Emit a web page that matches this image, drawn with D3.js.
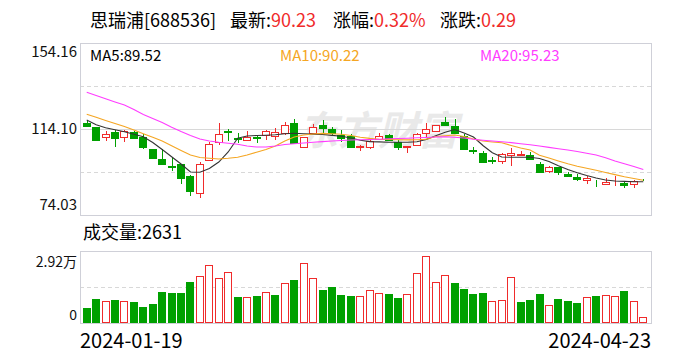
<!DOCTYPE html>
<head>
  <meta charset="utf-8">
  <style>
    body { margin: 0; background: #fff; }
    svg { display: block; font-family: "Microsoft YaHei", "Noto Sans CJK SC", sans-serif; }
  </style>
  <script src="https://cdn.jsdelivr.net/npm/d3@7/dist/d3.min.js"></script>
</head>
<body>
<div id="chart"></div>
<script>
// trading days shown
const dates = [
  '2024-01-19', '2024-01-22', '2024-01-23', '2024-01-24', '2024-01-25', '2024-01-26',
  '2024-01-29', '2024-01-30', '2024-01-31', '2024-02-01', '2024-02-02',
  '2024-02-05', '2024-02-06', '2024-02-07', '2024-02-08',
  '2024-02-19', '2024-02-20', '2024-02-21', '2024-02-22', '2024-02-23',
  '2024-02-26', '2024-02-27', '2024-02-28', '2024-02-29', '2024-03-01',
  '2024-03-04', '2024-03-05', '2024-03-06', '2024-03-07', '2024-03-08',
  '2024-03-11', '2024-03-12', '2024-03-13', '2024-03-14', '2024-03-15',
  '2024-03-18', '2024-03-19', '2024-03-20', '2024-03-21', '2024-03-22',
  '2024-03-25', '2024-03-26', '2024-03-27', '2024-03-28', '2024-03-29',
  '2024-04-01', '2024-04-02', '2024-04-03',
  '2024-04-08', '2024-04-09', '2024-04-10', '2024-04-11', '2024-04-12',
  '2024-04-15', '2024-04-16', '2024-04-17', '2024-04-18', '2024-04-19',
  '2024-04-22', '2024-04-23'
]
const open = [116.89, 115.03, 110.23, 112.84, 110.23, 112.70, 110.51, 104.78, 100.12, 96.86,
  97.79, 92.06, 84.14, 99.51, 108.18, 113.30, 109.76, 108.83, 110.51, 111.44,
  110.97, 112.37, 117.03, 105.57, 112.09, 115.96, 114.10, 111.30, 110.83, 105.57,
  105.57, 109.58, 111.30, 108.04, 105.57, 106.50, 112.09, 113.30, 117.36, 115.49,
  110.83, 104.31, 103.05, 99.65, 99.19, 101.98, 102.12, 101.98, 97.79, 94.53,
  96.39, 93.13, 91.87, 90.48, 88.61, 88.47, 89.35, 89.08, 88.47, 90.40]
const close = [115.63, 109.11, 111.63, 110.04, 113.02, 109.76, 105.57, 100.72, 97.79, 96.53,
  91.41, 85.21, 97.65, 107.11, 111.63, 112.70, 109.44, 110.23, 110.10, 113.02,
  112.56, 115.82, 107.43, 110.37, 114.89, 114.70, 112.09, 110.04, 105.85, 106.18,
  108.50, 110.83, 108.83, 105.85, 105.95, 111.63, 113.96, 115.82, 116.10, 112.23,
  104.64, 103.71, 98.58, 99.33, 102.31, 102.77, 102.45, 99.98, 94.20, 96.39,
  93.92, 92.06, 90.66, 91.27, 88.33, 89.35, 89.50, 88.01, 89.94, 90.23]
const high = [118.29, 115.20, 113.16, 113.49, 113.77, 113.30, 111.63, 104.90, 104.78, 101.05,
  97.90, 92.67, 98.58, 108.18, 116.89, 113.96, 112.09, 113.30, 111.07, 113.63,
  114.56, 117.36, 118.61, 110.50, 116.42, 118.29, 114.89, 113.63, 111.77, 106.41,
  109.30, 112.46, 111.77, 108.97, 106.00, 112.23, 116.75, 115.90, 119.69, 118.61,
  111.77, 105.85, 103.99, 101.19, 103.05, 105.38, 103.85, 103.24, 98.86, 97.00,
  96.50, 94.20, 92.99, 92.06, 90.20, 91.41, 92.06, 89.54, 90.48, 90.94]
const low = [115.50, 108.64, 108.50, 105.85, 108.18, 109.30, 104.78, 100.60, 97.70, 94.67,
  88.47, 83.02, 82.09, 99.40, 106.64, 108.64, 107.43, 108.36, 107.71, 108.97,
  108.97, 111.16, 107.11, 105.50, 111.77, 112.37, 110.83, 108.18, 105.70, 103.99,
  104.78, 108.97, 108.50, 104.31, 103.05, 106.40, 110.37, 112.84, 115.49, 111.77,
  104.50, 102.45, 98.40, 97.65, 97.65, 97.00, 101.38, 99.90, 94.10, 93.60,
  92.67, 92.00, 90.01, 88.33, 87.21, 88.01, 87.68, 86.47, 86.75, 90.10]
const volume = [6190, 9823, 9016, 9420, 9016, 8612, 6594, 7805, 12649, 12245,
  12245, 16686, 18973, 23414, 18166, 20588, 10630, 10496, 11034, 12514,
  11438, 16147, 17493, 24221, 18166, 13456, 14667, 11438, 11034, 11034,
  13321, 12111, 11841, 10226, 11707, 20184, 27046, 16551, 19376, 16282,
  13860, 11841, 12245, 8881, 9285, 18569, 8612, 9420, 11841, 7266,
  9823, 9016, 8208, 10496, 11034, 11303, 11034, 13052, 8881, 2631]
const ma5 = [118.29, 116.05, 114.65, 113.72, 112.84, 111.67, 110.51, 107.81, 104.55, 101.19,
  97.79, 94.06, 93.92, 95.69, 98.72, 103.38, 109.81, 110.83, 111.07, 111.21,
  111.44, 111.86, 112.09, 111.91, 111.72, 111.53, 111.11, 110.74, 109.90, 108.83,
  108.23, 108.09, 107.95, 107.90, 107.90, 108.18, 109.16, 110.93, 112.56, 113.86,
  112.23, 110.37, 106.41, 103.05, 101.05, 100.91, 100.91, 100.91, 100.35, 98.95,
  97.00, 95.23, 93.74, 92.43, 91.27, 90.34, 89.87, 89.68, 89.54, 89.52]
const ma10 = [120.99, 119.55, 118.10, 116.66, 115.26, 113.63, 111.91, 110.28, 108.50, 106.27,
  104.08, 101.94, 100.82, 100.45, 100.12, 100.49, 100.96, 101.98, 103.29, 104.55,
  106.18, 108.50, 110.37, 111.30, 111.77, 112.05, 111.91, 111.67, 111.07, 110.28,
  109.72, 109.34, 109.20, 109.11, 109.02, 109.06, 109.30, 110.60, 110.93, 111.30,
  110.60, 109.44, 108.50, 108.04, 107.67, 106.41, 105.24, 104.31, 101.84, 100.58,
  99.19, 97.88, 96.77, 95.79, 94.85, 93.83, 92.85, 91.87, 91.03, 90.22]
const ma20 = [131.19, 129.70, 128.21, 126.72, 125.28, 123.18, 120.85, 118.99, 117.12, 114.93,
  112.93, 111.07, 109.44, 108.50, 107.90, 107.48, 106.97, 106.18, 105.71, 105.71,
  106.18, 106.87, 107.25, 107.57, 107.95, 108.23, 108.50, 108.74, 108.97, 109.06,
  109.20, 109.34, 109.53, 109.67, 109.81, 110.00, 110.14, 110.37, 110.46, 110.28,
  109.90, 109.34, 108.88, 108.50, 108.18, 107.76, 107.25, 106.73, 106.18, 105.52,
  104.92, 104.31, 103.61, 102.82, 101.98, 100.68, 99.19, 97.88, 96.67, 95.23]
const priceTicks = ['154.16', '114.10', '74.03']
const volumeTicks = ['2.92万', '0']
const volumeMax = 29200

const width = 688, height = 360
const red = '#f02b2b', green = '#00a000', gridColor = '#d8d8d8', borderColor = '#cfd0d8'
const maColors = { ma5: '#333', ma10: '#f5a623', ma20: '#ff3cff' }

const svg = d3.select('#chart').append('svg')
  .attr('width', width).attr('height', height)
  .attr('viewBox', [0, 0, width, height])

// panels
const px0 = 80, px1 = 651
const priceTop = 43, priceBottom = 215
const volTop = 251, volBottom = 323

const x = d3.scaleBand().domain(dates).range([82, 648]).paddingInner(0.2).paddingOuter(0.1)
const y = d3.scaleLinear().domain([+priceTicks[2], +priceTicks[0]]).range([priceBottom, priceTop])
const yv = d3.scaleLinear().domain([0, volumeMax]).range([volBottom, volTop])
const xc = d => x(d) + x.bandwidth() / 2

// header
const header = svg.append('g').attr('font-size', 18).attr('fill', '#000')
header.append('text').attr('x', 90).attr('y', 27).text('思瑞浦[688536]')
const hdr = [['最新:', '90.23', 230], ['涨幅:', '0.32%', 333], ['涨跌:', '0.29', 440]]
hdr.forEach(([k, v, hx]) => {
  const t = header.append('text').attr('x', hx).attr('y', 27)
  t.append('tspan').text(k)
  t.append('tspan').attr('fill', red).text(v)
})

// watermark
svg.append('text')
  .attr('x', 298).attr('y', 145)
  .attr('font-size', 40).attr('font-weight', 'bold').attr('font-style', 'italic')
  .attr('fill', '#e9e9e9')
  .text('东方财富')

// grid of price panel
const [pLo, pHi] = y.domain()
const quarter = (pHi - pLo) / 4
const gridVals = [pLo + quarter, pLo + 2 * quarter, pLo + 3 * quarter]
svg.append('g').selectAll('line').data(gridVals).join('line')
  .attr('x1', px0).attr('x2', px1)
  .attr('y1', d => Math.round(y(d)) + 0.5).attr('y2', d => Math.round(y(d)) + 0.5)
  .attr('stroke', gridColor)
  .attr('stroke-dasharray', (d, i) => i === 1 ? null : '4,3')

svg.append('line')
  .attr('x1', px0).attr('x2', px1)
  .attr('y1', Math.round(yv(volumeMax / 2)) + 0.5).attr('y2', Math.round(yv(volumeMax / 2)) + 0.5)
  .attr('stroke', gridColor).attr('stroke-dasharray', '4,3')

// borders
svg.append('rect').attr('x', px0 + 0.5).attr('y', priceTop + 0.5)
  .attr('width', px1 - px0).attr('height', priceBottom - priceTop)
  .attr('fill', 'none').attr('stroke', borderColor)
svg.append('rect').attr('x', px0 + 0.5).attr('y', volTop + 0.5)
  .attr('width', px1 - px0).attr('height', volBottom - volTop)
  .attr('fill', 'none').attr('stroke', borderColor)

// price labels
const pLabelY = [priceTop + 9, y(+priceTicks[1]), priceBottom - 10]
svg.append('g').attr('font-size', 15).attr('text-anchor', 'end').attr('fill', '#111')
  .selectAll('text').data(priceTicks).join('text')
  .attr('x', 77).attr('y', (d, i) => pLabelY[i]).attr('dy', '0.35em')
  .text(d => d)

// volume labels
const vLabelY = [volTop + 11, volBottom - 8]
svg.append('g').attr('font-size', 14).attr('text-anchor', 'end').attr('fill', '#111')
  .selectAll('text').data(volumeTicks).join('text')
  .attr('x', 77).attr('y', (d, i) => vLabelY[i]).attr('dy', '0.35em')
  .text(d => d)

// candles
const candles = dates.map((d, i) => ({ d, o: open[i], c: close[i], h: high[i], l: low[i], v: volume[i],
  up: close[i] >= open[i], volUp: i === 0 ? close[i] >= open[i] : close[i] >= close[i - 1] }))

const cg = svg.append('g').attr('shape-rendering', 'crispEdges')
cg.selectAll('line').data(candles).join('line')
  .attr('x1', d => Math.round(xc(d.d)) + 0.5).attr('x2', d => Math.round(xc(d.d)) + 0.5)
  .attr('y1', d => y(d.h)).attr('y2', d => y(d.l))
  .attr('stroke', d => d.up ? red : green)
const bw = Math.round(x.bandwidth())
cg.selectAll('rect').data(candles).join('rect')
  .attr('x', d => Math.round(xc(d.d)) - Math.floor(bw / 2) + 0.5)
  .attr('width', bw - 1)
  .attr('y', d => Math.round(y(Math.max(d.o, d.c))) + 0.5)
  .attr('height', d => Math.max(0, Math.round(y(Math.min(d.o, d.c))) - Math.round(y(Math.max(d.o, d.c)))))
  .attr('fill', d => d.up ? '#fff' : green)
  .attr('stroke', d => d.up ? red : green)

// moving averages
const line = d3.line().x((v, i) => xc(dates[i])).y(v => y(v))
;[['ma5', ma5], ['ma10', ma10], ['ma20', ma20]].forEach(([k, arr]) => {
  svg.append('path').attr('d', line(arr))
    .attr('fill', 'none').attr('stroke', maColors[k]).attr('stroke-width', 1.1)
})

// MA legend
const maLabels = [['MA5:' + ma5[ma5.length - 1].toFixed(2), 90, '#000'],
  ['MA10:' + ma10[ma10.length - 1].toFixed(2), 280, maColors.ma10],
  ['MA20:' + ma20[ma20.length - 1].toFixed(2), 480, maColors.ma20]]
svg.append('g').attr('font-size', 15)
  .selectAll('text').data(maLabels).join('text')
  .attr('x', d => d[1]).attr('y', 56).attr('dy', '0.35em')
  .attr('fill', d => d[2]).text(d => d[0])

// volume
svg.append('text').attr('x', 83).attr('y', 233).attr('dy', '0.35em')
  .attr('font-size', 18).attr('fill', '#000')
  .text('成交量:' + volume[volume.length - 1])

svg.append('g').attr('shape-rendering', 'crispEdges')
  .selectAll('rect').data(candles).join('rect')
  .attr('x', d => Math.round(xc(d.d)) - Math.floor(bw / 2) + 0.5)
  .attr('width', bw - 1)
  .attr('y', d => Math.round(yv(d.v)) + 0.5)
  .attr('height', d => volBottom - Math.round(yv(d.v)) - 1)
  .attr('fill', d => d.volUp ? '#fff' : green)
  .attr('stroke', d => d.volUp ? red : green)

// date labels
const dl = svg.append('g').attr('font-size', 20).attr('fill', '#000')
dl.append('text').attr('x', px0).attr('y', 341).attr('dy', '0.35em').text(dates[0])
dl.append('text').attr('x', px1).attr('y', 341).attr('dy', '0.35em').attr('text-anchor', 'end').text(dates[dates.length - 1])
</script>
</body>
